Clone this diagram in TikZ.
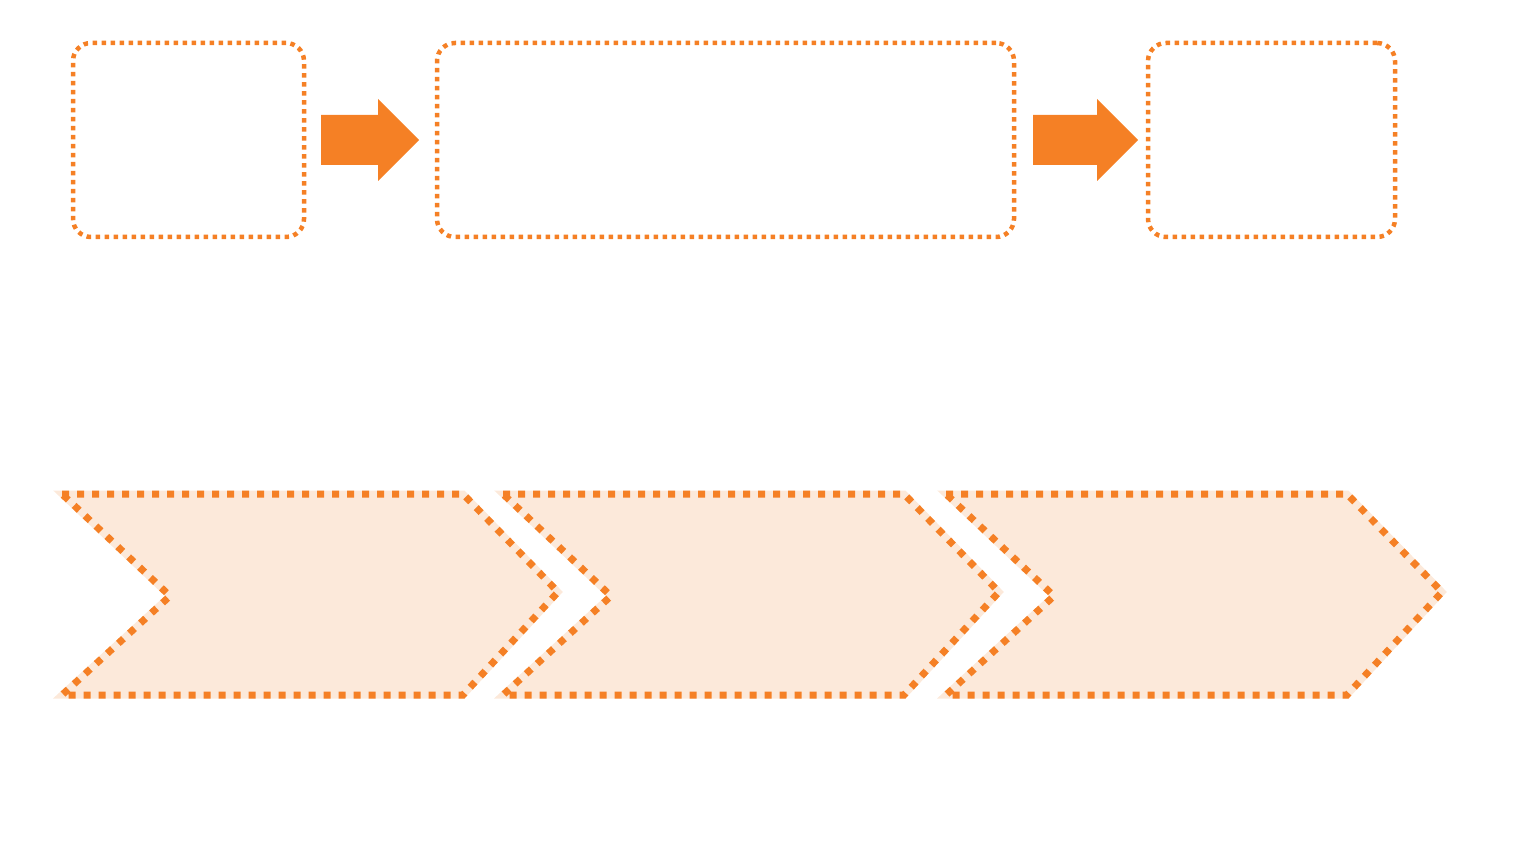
\documentclass[tikz,border=0pt]{standalone}
\usepackage[dvipsnames]{xcolor}
\usetikzlibrary{arrows.meta}
\definecolor{flowOrange}{RGB}{245,128,37}
\definecolor{flowPeach}{RGB}{252,233,218}
\tikzset{
    stagebox/.style={draw=flowOrange, line width=4.5pt, dash pattern=on 4.5pt off 4.5pt, rounded corners=18pt, inner sep=0pt, minimum height=194pt},
    flowarrow/.style={fill=flowOrange},
    phase/.style={fill=flowPeach, line width=7pt, dash pattern=on 7pt off 8pt, draw=flowOrange, preaction={draw=flowPeach, line width=7pt}}
}
\begin{document}
\begin{tikzpicture}[x=1pt, y=-1pt]
            \useasboundingbox (0,0) rectangle (1530,858);
            % top row
            \node[stagebox, minimum width=231pt] at (188.5, 140) (in) {};
            \node[stagebox, minimum width=577pt] at (725.5, 140) (proc) {};
            \node[stagebox, minimum width=247pt] at (1271.5, 140) (out) {};
            \fill[flowarrow] (321,115) -- (378,115) -- (378,99) -- (419,140) -- (378,181) -- (378,165) -- (321,165) -- cycle;
            \fill[flowarrow] (1033,115) -- (1097,115) -- (1097,99) -- (1138,140) -- (1097,181) -- (1097,165) -- (1033,165) -- cycle;
            % bottom row
            \foreach \x in {62, 503, 946}
                \draw[phase, shift={(\x,0)}] (0,494) -- (401,494) -- (496,592) -- (401,695) -- (0,695) -- (108,596) -- cycle;
        \end{tikzpicture}
\end{document}
